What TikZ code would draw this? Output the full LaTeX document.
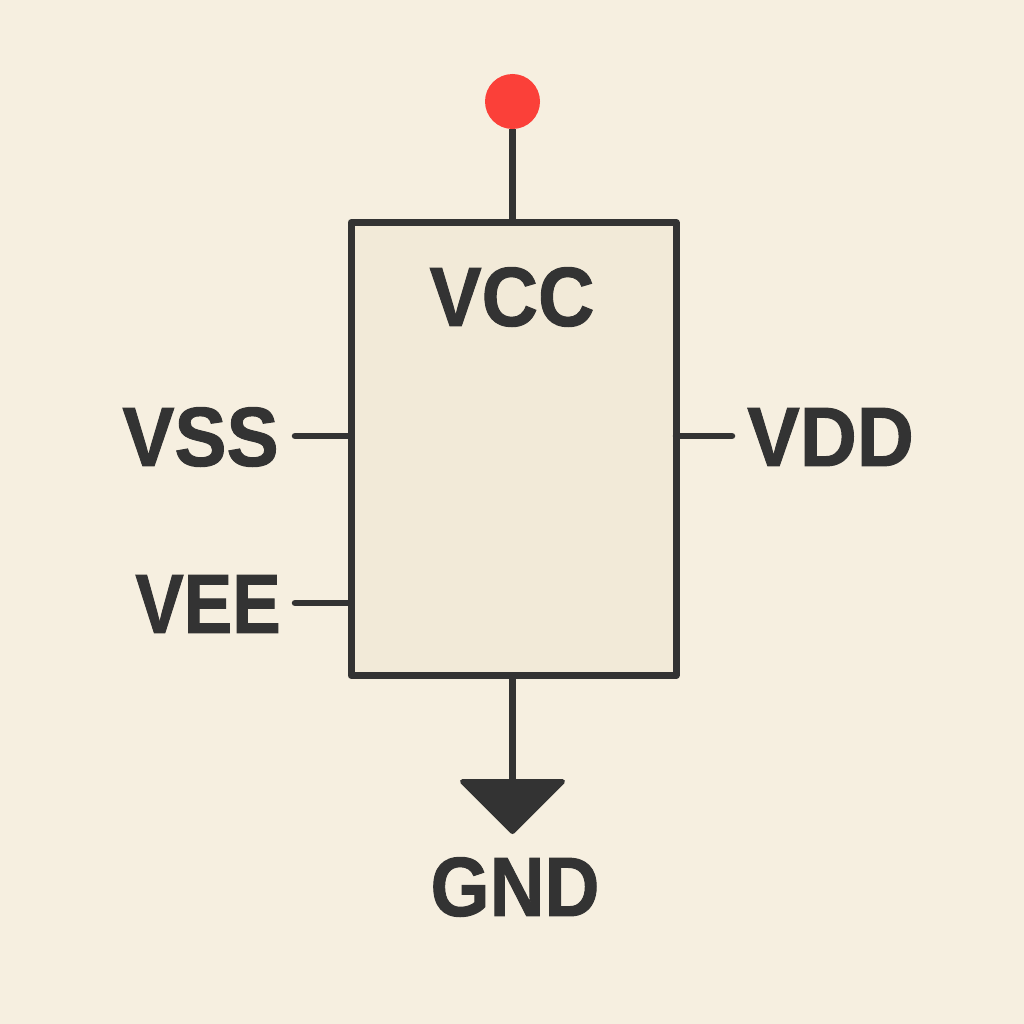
\documentclass[tikz,border=0pt]{standalone}
\usepackage{graphicx}
\usepackage{fontspec}
\setmainfont{Liberation Sans}[BoldFeatures={FakeBold=1.2}]
\definecolor{bgc}{HTML}{F6EFE0}
\definecolor{boxc}{HTML}{F2EAD8}
\definecolor{ink}{HTML}{333333}
\definecolor{dotc}{HTML}{FB4039}
\tikzset{
 wire/.style={draw=ink,line width=7pt},
 sidewire/.style={draw=ink,line width=6.5pt,line cap=round},
 lbl/.style={text=ink,font=\fontsize{84}{84}\selectfont\bfseries,inner sep=0pt,anchor=center}
}
\begin{document}
\begin{tikzpicture}[x=1pt,y=-1pt]
\useasboundingbox (0,0) rectangle (1024,1024);
\fill[bgc] (0,0) rectangle (1024,1024);
\node[draw=ink,fill=boxc,line width=7pt,line join=round,outer sep=0pt,minimum width=325pt,minimum height=453pt,inner sep=0pt] (chip) at (513.5,449) {};
\node[circle,fill=dotc,minimum size=55pt,inner sep=0pt] (vcc) at (512.5,101.5) {};
\coordinate (top) at (512.5,222);
\coordinate (bot) at (512.5,676);
\coordinate (gtip) at (512.5,785);
\draw[wire] (vcc) -- (top);
\draw[wire] (bot) -- (gtip);
\fill[ink,draw=ink,line width=5pt,line join=round] (462.5,781.5) -- (562.5,781.5) -- (512.5,831.5) -- cycle;
\coordinate (vssE) at (295,436);
\coordinate (vssC) at (351,436);
\coordinate (veeE) at (295,603);
\coordinate (veeC) at (351,603);
\coordinate (vddE) at (732,436);
\coordinate (vddC) at (676,436);
\draw[sidewire] (vssE) -- (vssC);
\draw[sidewire] (veeE) -- (veeC);
\draw[sidewire] (vddE) -- (vddC);
\node[lbl] (lvcc) at (512,297) {\scalebox{0.93}[1]{VCC}};
\node[lbl] (lvss) at (200.5,437) {\scalebox{0.93}[1]{VSS}};
\node[lbl] (lvee) at (208,604) {\scalebox{0.865}[1]{VEE}};
\node[lbl] (lvdd) at (830.5,437) {\scalebox{0.94}[1]{VDD}};
\node[lbl] (lgnd) at (515,887) {\scalebox{0.905}[1]{GND}};
\end{tikzpicture}
\end{document}
